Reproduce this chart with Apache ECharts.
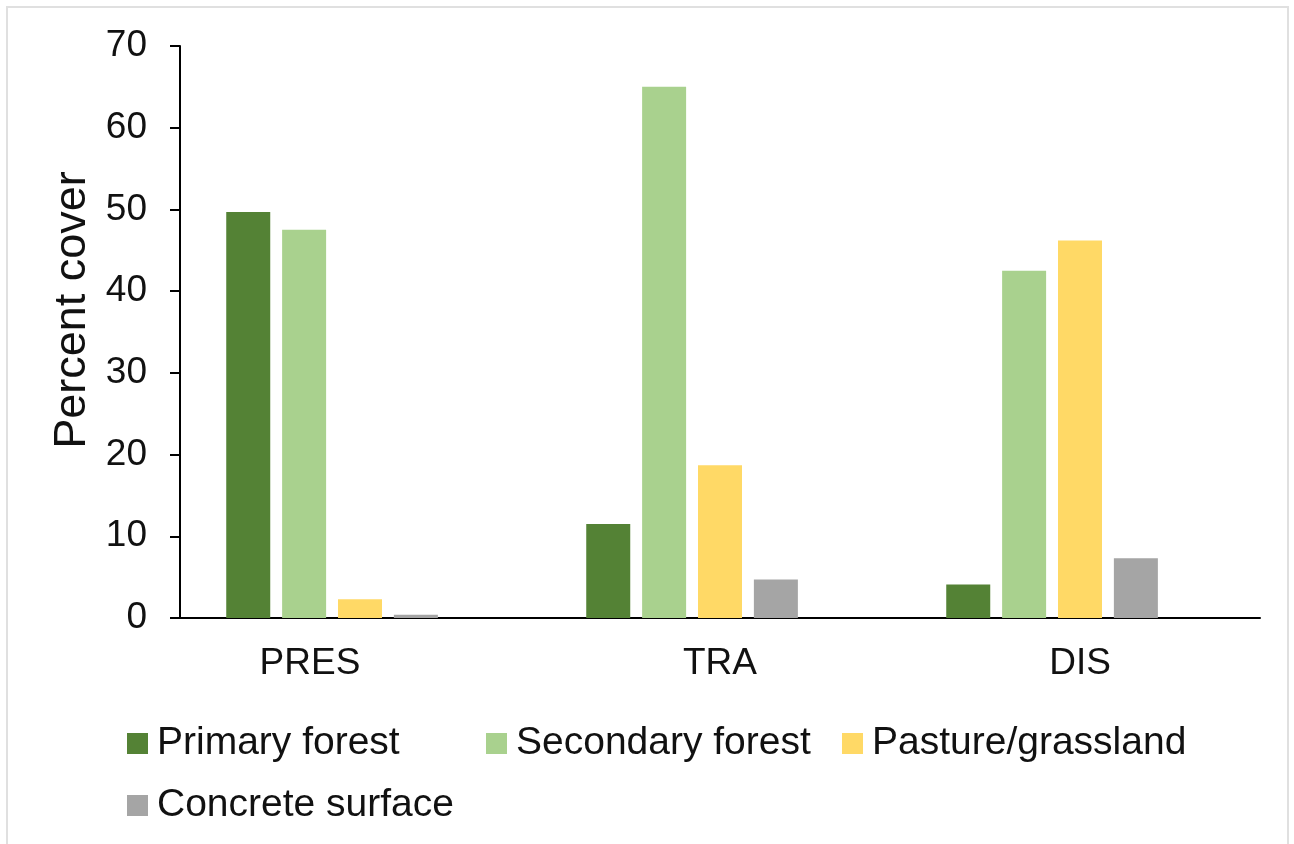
<!DOCTYPE html>
<html>
<head>
<meta charset="utf-8">
<script src="https://cdn.jsdelivr.net/npm/echarts@6/dist/echarts.min.js"></script>
<style>
  html, body { margin: 0; padding: 0; background: #fff; }
  #chart { width: 1294px; height: 844px; }
  #frame { position: absolute; left: 6px; top: 6px; width: 1283px; height: 900px;
           border: 2px solid #e0e0e0; pointer-events: none; box-sizing: border-box; }
</style>
</head>
<body>
<div id="chart"></div>
<div id="frame"></div>
<script>
const categories = ['PRES', 'TRA', 'DIS'];
const seriesNames = ['Primary forest', 'Secondary forest', 'Pasture/grassland', 'Concrete surface'];
const primaryForest = [49.7, 11.5, 4.1];
const secondaryForest = [47.5, 65.0, 42.5];
const pasture = [2.3, 18.7, 46.2];
const concrete = [0.4, 4.7, 7.3];
const spacer = [null, null, null];
const yTicks = { min: 0, max: 70, interval: 10 };

const colors = ['#548235', '#A9D18E', '#FFD966', '#A5A5A5'];
const values = [primaryForest, secondaryForest, pasture, concrete];
const FONT = 'Liberation Sans, Arial, sans-serif';

const series = seriesNames.map((n, i) => ({
  name: n, type: 'bar', data: values[i], barWidth: 44, barGap: '27%',
  itemStyle: { color: colors[i] }
}));
series.push({ name: 'spacer', type: 'bar', data: spacer, barWidth: 44, barGap: '27%' });

const legendPos = [[122, 719], [481, 719], [837, 719], [122, 781]];
const legends = seriesNames.map((n, i) => ({
  data: [n], left: legendPos[i][0], top: legendPos[i][1],
  icon: 'rect', itemWidth: 21, itemHeight: 21, selectedMode: false,
  textStyle: { fontFamily: FONT, fontSize: 39, color: '#111', padding: [0, 0, 0, 4] }
}));

const chart = echarts.init(document.getElementById('chart'));
chart.setOption({
  animation: false,
  backgroundColor: '#fff',
  grid: { left: 180, right: 34, top: 46, bottom: 226 },
  legend: legends,
  xAxis: {
    type: 'category', data: categories,
    axisLine: { lineStyle: { color: '#000', width: 2 } },
    axisTick: { show: false },
    axisLabel: {
      margin: 27, fontFamily: FONT, fontSize: 37, color: '#111',
      formatter: v => v === 'PRES' ? '{p|' + v + '}' : v,
      rich: { p: { fontFamily: FONT, fontSize: 37, color: '#111', padding: [0, 100, 0, 0] } }
    }
  },
  yAxis: {
    type: 'value', min: yTicks.min, max: yTicks.max, interval: yTicks.interval,
    name: 'Percent cover', nameLocation: 'middle', nameGap: 84,
    nameTextStyle: { fontFamily: FONT, fontSize: 45, color: '#111', padding: [0, 0, 0, 44] },
    axisLine: { show: true, lineStyle: { color: '#000', width: 2 } },
    axisTick: { show: true, length: 10, lineStyle: { color: '#000', width: 2 } },
    splitLine: { show: false },
    axisLabel: { margin: 33, fontFamily: FONT, fontSize: 37, color: '#111' }
  },
  series: series
});
</script>
</body>
</html>
